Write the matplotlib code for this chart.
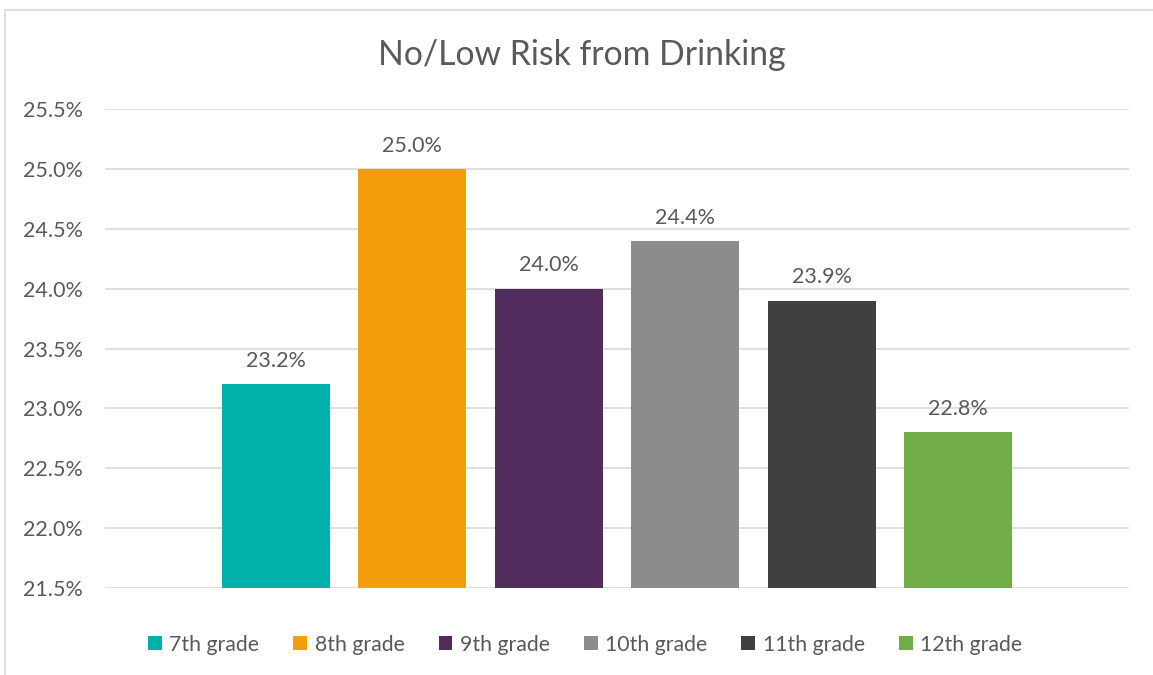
import matplotlib.pyplot as plt
from matplotlib.patches import Rectangle
from matplotlib.ticker import FuncFormatter

# --- Data ---
grades = ["7th grade", "8th grade", "9th grade", "10th grade", "11th grade", "12th grade"]
values = [23.2, 25.0, 24.0, 24.4, 23.9, 22.8]
colors = ["#00B0AA", "#F59E0B", "#532C5E", "#8C8C8E", "#404042", "#70AD47"]
y_ticks = [21.5, 22.0, 22.5, 23.0, 23.5, 24.0, 24.5, 25.0, 25.5]

plt.rcParams['font.family'] = ['Lato', 'DejaVu Sans']
text_color = "#595959"

fig = plt.figure(figsize=(11.53, 6.75), dpi=100)
ax = fig.add_axes([0.0911, 0.1289, 0.8879, 0.7096])

# light chart border like the Excel chart area (right edge runs off the picture)
fig.patches.append(Rectangle((5 / 1153, -0.01), 1.0, 1 - 10 / 675 + 0.01,
                             transform=fig.transFigure, fill=False,
                             edgecolor="#D9D9D9", linewidth=1.2))

for i, (g, v, c) in enumerate(zip(grades, values, colors)):
    ax.bar(i, v - 21.5, bottom=21.5, width=0.79, color=c, label=g, zorder=3)
    ax.text(i, v + 0.11, f"{v:.1f}%", ha="center", va="bottom",
            fontsize=15.5, color=text_color)

ax.set_xlim(-1.25, 6.25)
ax.set_ylim(21.5, 25.5)
ax.set_yticks(y_ticks)
ax.yaxis.set_major_formatter(FuncFormatter(lambda y, _: f"{y:.1f}%"))
ax.tick_params(axis="y", length=0, labelsize=15.5, labelcolor=text_color, pad=16)
ax.set_xticks([])
ax.grid(axis="y", color="#D9D9D9", linewidth=1.2, zorder=0)
for s in ax.spines.values():
    s.set_visible(False)

fig.text(0.505, 0.919, "No/Low Risk from Drinking", ha="center", va="center",
         fontsize=24.3, color=text_color)

leg = ax.legend(loc="center", bbox_to_anchor=(0.469, -0.118), ncol=6, frameon=False,
                fontsize=15.3, handlelength=0.65, handleheight=0.65,
                handletextpad=0.35, columnspacing=1.6, labelcolor=text_color)

fig.savefig("out.png", dpi=100)
